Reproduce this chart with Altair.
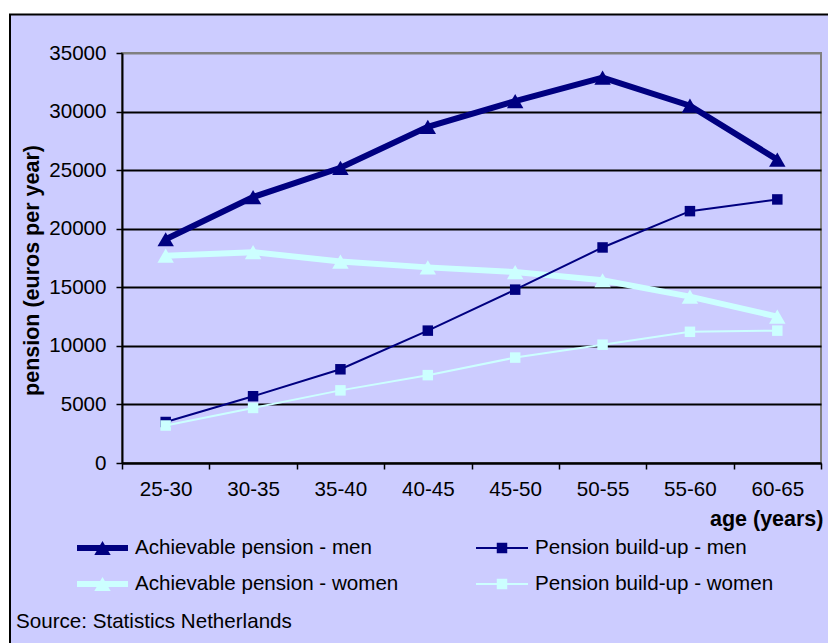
import altair as alt
import pandas as pd

# Age groups and pension amounts (euros per year)
ages = ["25-30", "30-35", "35-40", "40-45", "45-50", "50-55", "55-60", "60-65"]
achievable_men = [19100, 22700, 25200, 28700, 30900, 32900, 30500, 25900]
achievable_women = [17700, 18000, 17200, 16700, 16300, 15600, 14200, 12500]
buildup_men = [3500, 5700, 8000, 11300, 14800, 18400, 21500, 22500]
buildup_women = [3200, 4700, 6200, 7500, 9000, 10100, 11200, 11300]
y_ticks = [0, 5000, 10000, 15000, 20000, 25000, 30000, 35000]

NAVY = "#000080"
CYAN = "#CCFFFF"
LAVENDER = "#CCCCFF"
FONT = "Liberation Sans"
TXT = 20.6

series = [
    ("Achievable pension - men", achievable_men, NAVY, 6, "triangle-up", 270),
    ("Achievable pension - women", achievable_women, CYAN, 6, "triangle-up", 270),
    ("Pension build-up - men", buildup_men, NAVY, 2, "square", 110),
    ("Pension build-up - women", buildup_women, CYAN, 2, "square", 110),
]

W, H = 699, 410  # plot area
PAD_L, PAD_T = 122, 53

x_enc = alt.X(
    "age:N",
    sort=ages,
    scale=alt.Scale(type="band", paddingInner=0, paddingOuter=0),
    axis=alt.Axis(
        title="age (years)",
        titleFont=FONT, titleFontSize=21.5, titleFontWeight="bold", titleColor="black",
        titleAnchor="end", titleAlign="right", titleBaseline="middle",
        titleX=701, titleY=56, titleAngle=0,
        labelFont=FONT, labelFontSize=TXT, labelColor="black", labelAngle=0,
        labelPadding=10,
        tickBand="extent", tickSize=6, tickColor="black", tickWidth=1.5,
        domainColor="black", domainWidth=2, grid=False,
    ),
)
y_enc = alt.Y(
    "value:Q",
    scale=alt.Scale(domain=[0, 35000], nice=False),
    axis=alt.Axis(
        values=y_ticks, format="d",
        title="pension (euros per year)",
        titleFont=FONT, titleFontSize=21.5, titleFontWeight="bold", titleColor="black",
        titleAngle=-90, titleAlign="center", titleBaseline="middle",
        titleX=-90, titleY=217,
        labelFont=FONT, labelFontSize=TXT, labelColor="black", labelPadding=10,
        tickSize=6, tickColor="black", tickWidth=1.5,
        domainColor="black", domainWidth=2,
        grid=True, gridWidth=2,
        gridColor={"condition": {"test": "datum.value >= 35000", "value": "#808080"}, "value": "black"},
    ),
)

one = pd.DataFrame({"k": [0]})

# White margin and the black frame round the chart
frame = [
    alt.Chart(one).mark_rect(fill="white").encode(
        x=alt.value(-PAD_L), x2=alt.value(W + 20), y=alt.value(-PAD_T), y2=alt.value(-39)),
    alt.Chart(one).mark_rect(fill="white").encode(
        x=alt.value(-PAD_L), x2=alt.value(-113), y=alt.value(-PAD_T), y2=alt.value(H + 200)),
    alt.Chart(one).mark_rect(fill=None, stroke="black", strokeWidth=2).encode(
        x=alt.value(-112), x2=alt.value(W + 30), y=alt.value(-38.5), y2=alt.value(H + 220)),
]

layers = []
for name, vals, color, width, shape, size in series:
    df = pd.DataFrame({"age": ages, "value": vals, "series": name})
    base = alt.Chart(df).encode(x=x_enc, y=y_enc)
    layers.append(base.mark_line(color=color, strokeWidth=width))
    layers.append(base.mark_point(shape=shape, size=size, filled=True, color=color, opacity=1))

# Legend built from the series list
legend = []
for i, (name, vals, color, width, shape, size) in enumerate(series):
    col, row = i // 2, i % 2
    x0 = -45 if col == 0 else 354
    x1 = 6 if col == 0 else 406
    xm = (x0 + x1) / 2
    ly = 495 + row * 36
    leg_df = pd.DataFrame({"label": [name]})
    legend.append(alt.Chart(leg_df).mark_rule(color=color, strokeWidth=width).encode(
        x=alt.value(x0), x2=alt.value(x1), y=alt.value(ly)))
    legend.append(alt.Chart(leg_df).mark_point(shape=shape, size=size, filled=True,
                                                color=color, opacity=1).encode(
        x=alt.value(xm), y=alt.value(ly)))
    legend.append(alt.Chart(leg_df).mark_text(align="left", baseline="middle", font=FONT,
                                               fontSize=TXT, color="black").encode(
        x=alt.value(x1 + 7), y=alt.value(ly), text="label:N"))

source = alt.Chart(pd.DataFrame({"t": ["Source: Statistics Netherlands"]})).mark_text(
    align="left", baseline="middle", font=FONT, fontSize=TXT, color="black"
).encode(x=alt.value(-106), y=alt.value(569), text="t:N")

chart = alt.layer(*frame, *layers, *legend, source).properties(
    width=W, height=H,
    background=LAVENDER,
    padding={"left": PAD_L, "top": PAD_T, "right": 828 - PAD_L - W, "bottom": 643 - PAD_T - H},
    autosize=alt.AutoSizeParams(type="none"),
).configure_view(fill=LAVENDER, stroke="#808080", strokeWidth=2)

chart.save("out.html", embed_options={"renderer": "svg", "actions": False})
